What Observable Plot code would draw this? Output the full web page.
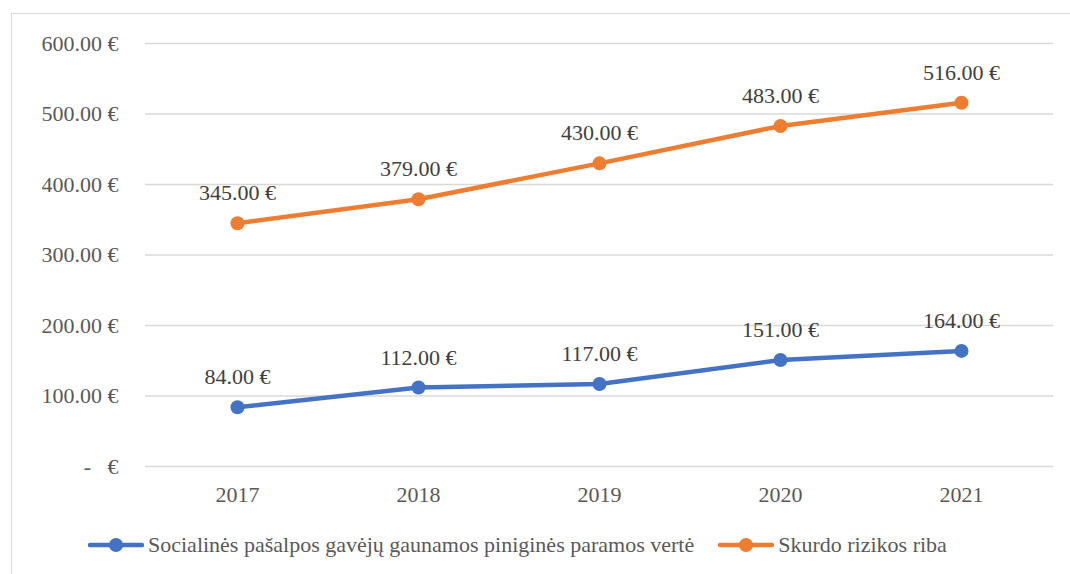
<!DOCTYPE html>
<html>
<head>
<meta charset="utf-8">
<script src="https://cdn.jsdelivr.net/npm/d3@7"></script>
<script src="https://cdn.jsdelivr.net/npm/@observablehq/plot@0.6"></script>
<style>
  html, body { margin: 0; padding: 0; background: #fff; }
  #wrap { position: relative; width: 1070px; height: 574px; overflow: hidden; font-family: "Times New Roman", Times, "Liberation Serif", "Noto Serif", "DejaVu Serif", FreeSerif, serif; }
  #frame { position: absolute; left: 11px; top: 13px; width: 1100px; height: 600px; border-left: 1px solid #D9D9D9; border-top: 1px solid #D9D9D9; box-sizing: border-box; }
  #chart { position: absolute; left: 0; top: 0; }
  #chart svg, #chart svg text { font-family: "Times New Roman", Times, "Liberation Serif", "Noto Serif", "DejaVu Serif", FreeSerif, serif !important; }
  #legend { position: absolute; left: 88px; top: 530px; height: 30px; display: flex; align-items: center; font-size: 22px; color: #595959; white-space: nowrap; }
  .item { display: flex; align-items: center; }
  .item + .item { margin-left: 24px; }
  .item svg { margin-right: 4px; }
</style>
</head>
<body>
<div id="wrap">
  <div id="frame"></div>
  <div id="chart"></div>
  <div id="legend"></div>
</div>
<script>
const years = ["2017", "2018", "2019", "2020", "2021"];
const benefitValues = [84, 112, 117, 151, 164];
const thresholdValues = [345, 379, 430, 483, 516];
const seriesNames = ["Socialinės pašalpos gavėjų gaunamos piniginės paramos vertė", "Skurdo rizikos riba"];
const seriesColors = ["#4472C4", "#ED7D31"];
const yTicks = [0, 100, 200, 300, 400, 500, 600];

const data = [];
years.forEach((yr, i) => data.push({year: yr, value: benefitValues[i], series: seriesNames[0]}));
years.forEach((yr, i) => data.push({year: yr, value: thresholdValues[i], series: seriesNames[1]}));

const fmt = v => v === 0 ? "-\u00a0\u00a0\u00a0€" : v.toFixed(2) + "\u00a0€";

const chart = Plot.plot({
  width: 1070,
  height: 520,
  marginLeft: 145,
  marginRight: 17,
  marginTop: 43,
  marginBottom: 54,
  style: {fontSize: "22px", color: "#595959", background: "transparent", overflow: "visible"},
  x: {type: "point", domain: years, padding: 0.5, label: null},
  y: {domain: [0, 600], label: null},
  color: {domain: seriesNames, range: seriesColors},
  marks: [
    Plot.gridY(yTicks, {stroke: "#D9D9D9", strokeOpacity: 1, strokeWidth: 1.3}),
    Plot.axisY(yTicks, {tickSize: 0, tickPadding: 27, tickFormat: fmt, fontSize: 22, fill: "#595959", label: null}),
    Plot.axisX(years, {tickSize: 0, tickPadding: 20, fontSize: 22, fill: "#595959", label: null}),
    Plot.line(data, {x: "year", y: "value", z: "series", stroke: "series", strokeWidth: 4.5, strokeLinecap: "round", strokeLinejoin: "round"}),
    Plot.dot(data, {x: "year", y: "value", fill: "series", r: 7}),
    Plot.text(data, {x: "year", y: "value", text: d => fmt(d.value), dy: -30, fontSize: 22, fill: "#404040"})
  ]
});
document.getElementById("chart").appendChild(chart);

const legend = d3.select("#legend");
seriesNames.forEach((name, i) => {
  const item = legend.append("div").attr("class", "item");
  const sw = item.append("svg").attr("width", 56).attr("height", 20);
  sw.append("line").attr("x1", 2).attr("x2", 54).attr("y1", 10).attr("y2", 10)
    .attr("stroke", seriesColors[i]).attr("stroke-width", 4.5).attr("stroke-linecap", "round");
  sw.append("circle").attr("cx", 28).attr("cy", 10).attr("r", 7).attr("fill", seriesColors[i]);
  item.append("span").text(name);
});
</script>
</body>
</html>
